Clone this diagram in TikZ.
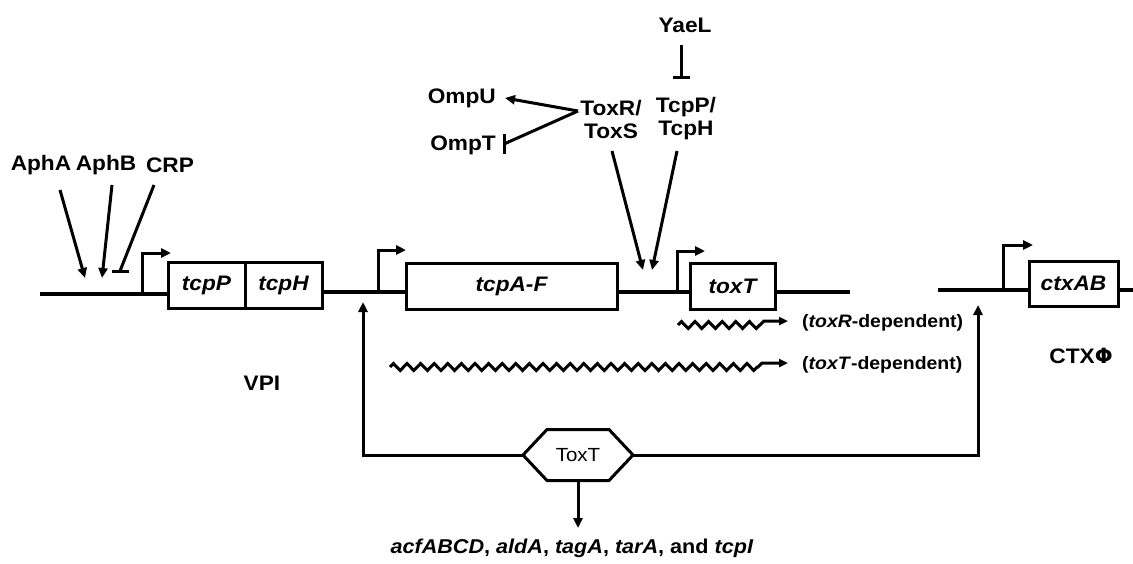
\documentclass[tikz,border=0pt]{standalone}
\usepackage{fontspec}
\setmainfont[FakeStretch=1.08]{Liberation Sans}
\usetikzlibrary{arrows.meta,decorations.pathmorphing,calc}
\begin{document}
\begin{tikzpicture}[x=1pt,y=-1pt,
  lbl/.style={font=\fontsize{21}{23}\selectfont\bfseries, inner sep=1pt, align=center},
  gene/.style={draw, line width=3pt, minimum height=46pt, inner sep=0pt, outer sep=0pt, font=\fontsize{21}{23}\selectfont\bfseries\itshape},
  dna/.style={line width=3.6pt},
  arr/.style={line width=3pt, -{Triangle[length=10pt,width=9pt]}},
  inh/.style={line width=3pt, -{Bar[width=17pt,line width=3pt]}},
  plain/.style={line width=3pt},
  prom/.style={line width=3pt, -{Triangle[length=10pt,width=9pt]}},
  small/.style={font=\fontsize{18}{20}\selectfont\bfseries, inner sep=0pt, anchor=west}
]
\useasboundingbox (0,0) rectangle (1133,563);

% genes
\node[gene, minimum width=77pt] (tcpP) at (206.5,285) {tcpP};
\node[gene, minimum width=77pt] (tcpH) at (283.5,285) {tcpH};
\node[gene, minimum width=211pt] (tcpA) at (511.5,286) {tcpA-F};
\node[gene, minimum width=85pt] (toxTg) at (732.5,286) {toxT};
\node[gene, minimum width=89pt, minimum height=45pt] (ctx) at (1073.5,283.5) {ctxAB};

% DNA lines
\coordinate (L0) at (40,294);
\coordinate (L1) at (850,292);
\coordinate (R0) at (938,290);
\coordinate (R1) at (1133,290);
\draw[dna] (L0) -- (L0 -| tcpP.west);
\draw[dna] ([yshift=-7pt]tcpH.east) -- ([yshift=-6pt]tcpA.west);
\draw[dna] ([yshift=-6pt]tcpA.east) -- ([yshift=-6pt]toxTg.west);
\draw[dna] ([yshift=-6pt]toxTg.east) -- (L1);
\draw[dna] (R0) -- (R0 -| ctx.west);
\draw[dna] (R1 -| ctx.east) -- (R1);

% promoters
\coordinate (p1) at (142,294); \coordinate (p1e) at (171,253);
\coordinate (p2) at (378,292); \coordinate (p2e) at (406,250);
\coordinate (p3) at (677,292); \coordinate (p3e) at (705,251);
\coordinate (p4) at (1003,290); \coordinate (p4e) at (1033,245);
\draw[prom] (p1) |- (p1e);
\draw[prom] (p2) |- (p2e);
\draw[prom] (p3) |- (p3e);
\draw[prom] (p4) |- (p4e);

% VPI regulators
\node[lbl] (aphA) at (41,165) {AphA};
\node[lbl] (aphB) at (106,165) {AphB};
\node[lbl] (crp) at (170,165) {CRP};
\coordinate (s1) at (60,190);
\coordinate (s2) at (112,185);
\coordinate (s3) at (154,185);
\coordinate (a1) at (85,278);
\coordinate (a2) at (102,278);
\coordinate (a3) at (120,271);
\draw[arr] (s1) -- (a1);
\draw[arr] (s2) -- (a2);
\draw[plain] (s3) -- (a3);
\draw[plain] ([xshift=-8.5pt]a3) -- ([xshift=8.5pt]a3);

% ToxR / TcpP
\node[lbl] (toxRS) at (611,119) {ToxR/\\ToxS};
\node[lbl] (tcpPH) at (686,119) {TcpP/\\TcpH};
\node[lbl] (yaeL) at (685,25) {YaeL};
\node[lbl, anchor=east] (ompU) at (497,98) {OmpU};
\node[lbl, anchor=east] (ompT) at (497,145) {OmpT};
\coordinate (j) at (578,111);
\coordinate (tb) at (504,144);
\coordinate (b1) at (643,270);
\coordinate (b2) at (652,270);
\coordinate (t1) at (612,151);
\coordinate (t2) at (677,151);
\draw[arr] (j) -- ([xshift=8pt]ompU.east);
\draw[plain] (j) -- (tb);
\draw[plain] ([yshift=10pt]tb) -- ([yshift=-10pt]tb);
\draw[arr] (t1) -- (b1);
\draw[arr] (t2) -- (b2);
\coordinate (y1) at (681,45);
\coordinate (y2) at (681,79);
\draw[inh] (y1) -- (y2);

% transcripts
\draw[line width=3pt, -{Triangle[length=9pt,width=8pt]}]
  decorate[decoration={zigzag, segment length=13.6pt, amplitude=3.5pt}]{(678,325) -- (760,325)} -- (764,321) -- (788,321);
\draw[line width=3pt, -{Triangle[length=9pt,width=8pt]}]
  decorate[decoration={zigzag, segment length=13.6pt, amplitude=3.5pt}]{(390,367) -- (758,367)} -- (762,363) -- (788,363);
\node[small] (dR) at (802,323) {(\textit{toxR}-dependent)};
\node[small] (dT) at (802,365) {(\textit{toxT}-dependent)};

% labels
\node[lbl] (vpi) at (262,383) {VPI};
\node[lbl] (ctxphi) at (1081,356) {CTX\fontspec{DejaVu Sans}\bfseries Φ};

% ToxT hexagon
\node[inner sep=0pt, outer sep=0pt, minimum width=110pt, minimum height=51pt, font=\fontsize{19}{21}\selectfont] (hex) at (578,455) {ToxT};
\draw[line width=3pt, line join=miter] (hex.west) -- ([xshift=24pt]hex.north west) -- ([xshift=-24pt]hex.north east) -- (hex.east) -- ([xshift=-24pt]hex.south east) -- ([xshift=24pt]hex.south west) -- cycle;
\coordinate (ua) at (363,302);
\coordinate (ub) at (978,305);
\draw[arr] (hex.west) -| (ua);
\draw[arr] (hex.east) -| (ub);
\node[font=\fontsize{20}{22}\selectfont\bfseries, inner sep=0pt] (targets) at (572,548) {\textit{acfABCD}, \textit{aldA}, \textit{tagA}, \textit{tarA}, and \textit{tcpI}};
\draw[arr] (hex.south) -- (578,528);
\end{tikzpicture}
\end{document}
